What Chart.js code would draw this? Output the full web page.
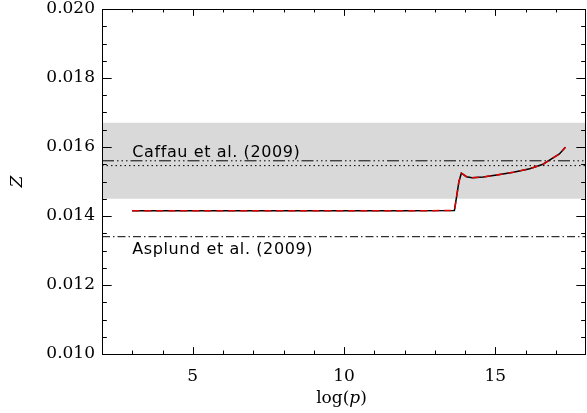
<!DOCTYPE html>
<html>
<head>
<meta charset="utf-8">
<script src="https://cdn.jsdelivr.net/npm/chart.js@4"></script>
<style>
  html, body { margin: 0; padding: 0; background: #fff; }
  #wrap { width: 587px; height: 413px; }
</style>
</head>
<body>
<div id="wrap"><canvas id="chart"></canvas></div>
<script>
// metallicity profile Z vs log(p)
const logP = [3.0, 6.0, 9.0, 12.0, 13.65, 13.72, 13.8, 13.88, 13.95, 14.05, 14.23, 14.6, 15.05, 15.6, 16.14, 16.58, 16.74, 17.12, 17.32];
const zCurve = [0.01415, 0.01415, 0.01415, 0.01415, 0.01416, 0.01455, 0.01500, 0.01524, 0.01520, 0.01514, 0.01511, 0.01513, 0.01519, 0.01527, 0.01537, 0.01550, 0.01559, 0.01580, 0.01599];

// reference solar values
const caffauZ = 0.0156;
const caffauDotZ = 0.01546;
const asplundZ = 0.0134;
const bandLow = 0.0145;
const bandHigh = 0.0167;

const xRange = [2, 18];
const yRange = [0.010, 0.020];
const xTicks = [5, 10, 15];
const xMinor = [3, 4, 6, 7, 8, 9, 11, 12, 13, 14, 16, 17];
const yTicks = [0.010, 0.012, 0.014, 0.016, 0.018, 0.020];
const yMinor = [0.0105, 0.011, 0.0115, 0.0125, 0.013, 0.0135, 0.0145, 0.015, 0.0155, 0.0165, 0.017, 0.0175, 0.0185, 0.019, 0.0195];

const labels = ['Caffau et al. (2009)', 'Asplund et al. (2009)'];
const labelX = [3.0, 3.0];
const labelZ = [0.01572, 0.01289];

const curve = logP.map((x, i) => ({ x: x, y: zCurve[i] }));
const flat = v => xRange.map(x => ({ x: x, y: v }));

const SERIF = '"DejaVu Serif"';
const SANS = '"DejaVu Sans"';
const TICK_FONT = { family: 'DejaVu Serif', size: 17 };

// frame, inward ticks on all four sides, axis titles and text labels
const decorations = {
  id: 'decorations',
  afterDatasetsDraw(chart) {
    const { ctx, chartArea: a, scales } = chart;
    const xs = scales.x, ys = scales.y;
    const xLen = 0.02 * (a.bottom - a.top);
    const yLen = 0.02 * (a.right - a.left);
    ctx.save();
    ctx.strokeStyle = '#000';
    ctx.lineWidth = 1;
    ctx.strokeRect(a.left + 0.5, a.top + 0.5, a.right - a.left - 1, a.bottom - a.top);

    ctx.beginPath();
    const xt = (vals, len) => vals.forEach(v => {
      const px = Math.round(xs.getPixelForValue(v)) + 0.5;
      ctx.moveTo(px, a.bottom); ctx.lineTo(px, a.bottom - len);
      ctx.moveTo(px, a.top); ctx.lineTo(px, a.top + len);
    });
    const yt = (vals, len) => vals.forEach(v => {
      const py = Math.round(ys.getPixelForValue(v)) + 0.5;
      ctx.moveTo(a.left, py); ctx.lineTo(a.left + len, py);
      ctx.moveTo(a.right, py); ctx.lineTo(a.right - len, py);
    });
    xt(xTicks, xLen); xt(xMinor, xLen / 2);
    yt(yTicks, yLen); yt(yMinor, yLen / 2);
    ctx.stroke();

    ctx.fillStyle = '#000';
    // y title
    ctx.save();
    ctx.translate(18, (a.top + a.bottom) / 2);
    ctx.rotate(-Math.PI / 2);
    ctx.font = 'italic 17px ' + SERIF;
    ctx.textAlign = 'center';
    ctx.textBaseline = 'middle';
    ctx.fillText('Z', 0, 0);
    ctx.restore();

    // x title: log(p) with italic p
    const roman = '17px ' + SERIF;
    const ital = 'italic 17px ' + SERIF;
    ctx.textBaseline = 'alphabetic';
    ctx.textAlign = 'left';
    ctx.font = roman;
    const w1 = ctx.measureText('log(').width;
    const w3 = ctx.measureText(')').width;
    ctx.font = ital;
    const w2 = ctx.measureText('p').width;
    let tx = (a.left + a.right) / 2 - 2.5 - (w1 + w2 + w3) / 2;
    const ty = 402.5;
    ctx.font = roman; ctx.fillText('log(', tx, ty); tx += w1;
    ctx.font = ital; ctx.fillText('p', tx, ty); tx += w2;
    ctx.font = roman; ctx.fillText(')', tx, ty);

    // reference labels
    ctx.font = '16px ' + SANS;
    ctx.letterSpacing = '0.6px';
    labels.forEach((t, i) => {
      ctx.fillText(t, xs.getPixelForValue(labelX[i]), ys.getPixelForValue(labelZ[i]));
    });
    ctx.restore();
  }
};

new Chart(document.getElementById('chart'), {
  type: 'line',
  data: {
    datasets: [
      { data: curve, borderColor: '#e00000', borderWidth: 1.5, borderDash: [7, 5], order: 0 },
      { data: curve, borderColor: '#000', borderWidth: 1.5, order: 1 },
      { data: flat(caffauZ), borderColor: '#000', borderWidth: 1, borderDash: [12, 3, 1.5, 3, 1.5, 3, 1.5, 3], order: 2 },
      { data: flat(caffauDotZ), borderColor: '#000', borderWidth: 1, borderDash: [1.5, 3], order: 3 },
      { data: flat(asplundZ), borderColor: '#000', borderWidth: 1, borderDash: [8, 3, 1.5, 3], order: 4 },
      { data: flat(bandHigh), borderWidth: 0, borderColor: 'transparent', backgroundColor: '#d9d9d9', fill: '+1', order: 10 },
      { data: flat(bandLow), borderWidth: 0, borderColor: 'transparent', fill: false, order: 11 }
    ]
  },
  options: {
    responsive: true,
    maintainAspectRatio: false,
    animation: false,
    layout: { padding: { top: 9, right: 1, left: 0, bottom: 0 } },
    elements: { point: { radius: 0 }, line: { tension: 0 } },
    plugins: {
      legend: { display: false },
      tooltip: { enabled: false },
      filler: { drawTime: 'beforeDatasetsDraw' }
    },
    scales: {
      x: {
        type: 'linear',
        min: xRange[0],
        max: xRange[1],
        grid: { display: false, drawTicks: false },
        border: { display: false },
        afterBuildTicks: s => { s.ticks = xTicks.map(v => ({ value: v })); },
        afterFit: s => { s.height = 59; s.paddingLeft = 0; s.paddingRight = 0; },
        ticks: { color: '#000', font: TICK_FONT, padding: 12, maxRotation: 0 }
      },
      y: {
        min: yRange[0],
        max: yRange[1],
        grid: { display: false, drawTicks: false },
        border: { display: false },
        afterBuildTicks: s => { s.ticks = yTicks.map(v => ({ value: v })); },
        afterFit: s => { s.width = 102; s.paddingTop = 0; s.paddingBottom = 0; },
        ticks: { color: '#000', font: TICK_FONT, padding: 7, callback: v => v.toFixed(3) }
      }
    }
  },
  plugins: [decorations]
});
</script>
</body>
</html>
